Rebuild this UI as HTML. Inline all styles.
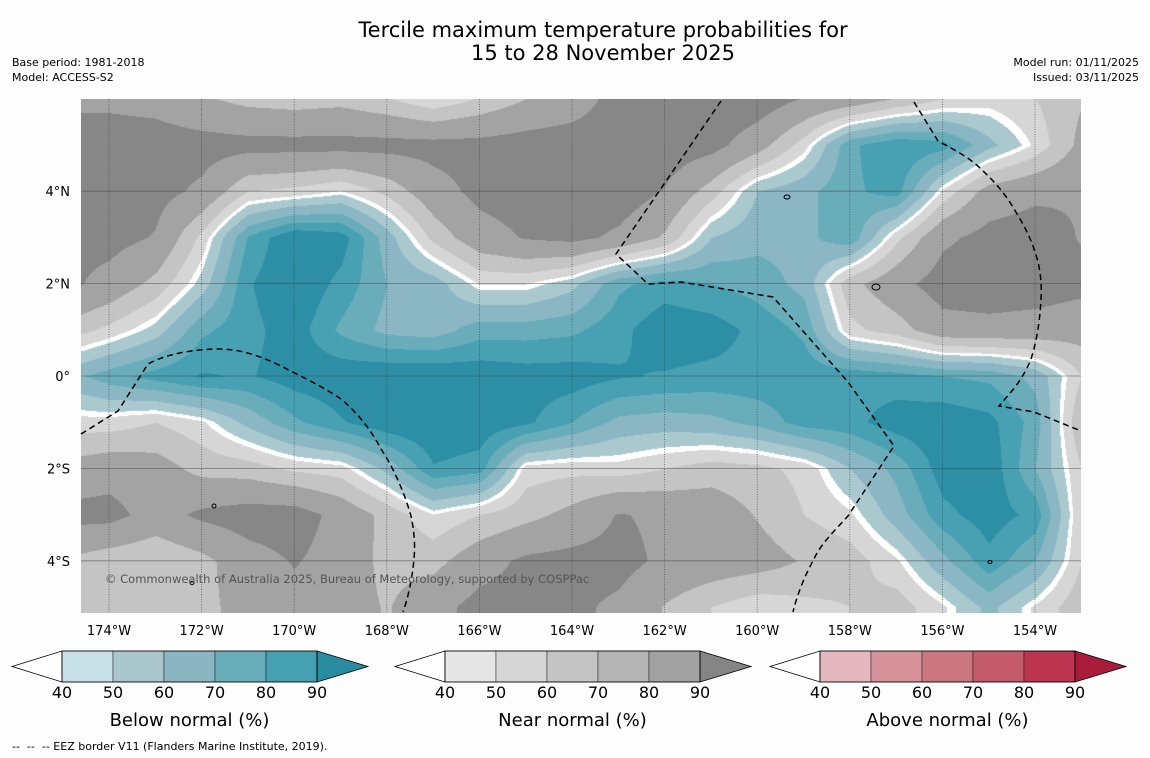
<!DOCTYPE html>
<html>
<head>
<meta charset="utf-8">
<style>
html,body{margin:0;padding:0;background:#fdfdfd;}
body{width:1150px;height:758px;position:relative;overflow:hidden;font-family:"DejaVu Sans","Liberation Sans",sans-serif;color:#000;}
.t{position:absolute;white-space:nowrap;}
#map{position:absolute;left:81px;top:99px;}
#ov{position:absolute;left:0;top:0;}
</style>
</head>
<body>
<div class="t" style="left:0;width:1206px;text-align:center;top:19px;font-size:21px;line-height:23px;">Tercile maximum temperature probabilities for<br>15 to 28 November 2025</div>
<div class="t" style="left:12px;top:55px;font-size:11px;line-height:15px;">Base period: 1981-2018<br>Model: ACCESS-S2</div>
<div class="t" style="right:11px;top:55px;font-size:11px;line-height:15px;text-align:right;">Model run: 01/11/2025<br>Issued: 03/11/2025</div>
<canvas id="map" width="1000" height="514"></canvas>
<svg id="ov" width="1150" height="758"></svg>
<div class="t" style="left:105px;top:572px;font-size:11.5px;color:#555;">© Commonwealth of Australia 2025, Bureau of Meteorology, supported by COSPPac</div>
<div class="t" style="left:12px;top:740px;font-size:11px;">--&nbsp; --&nbsp; -- EEZ border V11 (Flanders Marine Institute, 2019).</div>
<script>
const lons=[-175,-174,-173,-172,-171,-170,-169,-168,-167,-166,-165,-164,-163,-162,-161,-160,-159,-158,-157,-156,-155,-154,-153];
const lats=[6,5,4,3,2,1,0,-1,-2,-3,-4,-5,-6];
// signed tercile probability: + below normal, - near normal
const probGrid=[
[-78,-78,-76,-68,-62,-60,-62,-56,-47,-56,-66,-72,-88,-92,-92,-90,-80,-75,-65,-55,-50,-55,-65],
[-88,-88,-88,-87,-86,-86,-86,-86,-86,-86,-88,-90,-90,-90,-86,-72,-50,72,82,78,58,-48,-70],
[-88,-88,-86,-78,-55,-52,-46,-58,-75,-85,-88,-90,-90,-80,-60,55,62,72,78,-48,-72,-78,-80],
[-85,-86,-80,-52,75,92,88,60,-58,-75,-82,-85,-78,-64,55,62,62,72,-52,-78,-86,-88,-80],
[-85,-76,-62,50,82,92,80,65,60,-47,-47,52,72,78,74,70,62,-62,-76,-88,-90,-88,-85],
[-62,-52,50,72,80,88,72,62,60,70,70,72,80,90,88,80,72,-52,-60,-75,-76,-75,-72],
[60,70,78,84,82,88,90,92,92,90,88,88,84,82,80,80,80,80,78,74,72,62,-55],
[-50,-50,-55,-48,58,72,82,90,92,90,85,74,62,60,62,68,78,80,88,90,86,70,-65],
[-70,-75,-72,-62,-60,-53,-50,58,82,78,-50,-52,-50,-55,-60,-58,-52,55,68,88,90,65,-55],
[-86,-86,-75,-84,-88,-88,-76,-62,-47,-55,-62,-70,-82,-78,-75,-65,-55,-48,60,80,88,80,-55],
[-65,-58,-55,-62,-75,-82,-75,-62,-62,-75,-84,-86,-86,-78,-75,-72,-65,-60,-48,62,80,65,-55],
[-55,-55,-55,-62,-72,-76,-72,-65,-76,-86,-86,-84,-78,-65,-55,-48,-52,-55,-60,-48,58,-48,-62],
[-55,-55,-55,-62,-72,-76,-72,-65,-76,-86,-86,-84,-78,-65,-55,-48,-52,-55,-60,-48,58,-48,-62]
];
const lonTicks=[-174,-172,-170,-168,-166,-164,-162,-160,-158,-156,-154];
const latTicks=[4,2,0,-2,-4];
const X0=109,PXD=46.3,Y0=376,PYD=46.2;
function xOf(lon){return X0+(lon+174)*PXD;}
function yOf(lat){return Y0-lat*PYD;}
function hex(h){return [parseInt(h.substr(1,2),16),parseInt(h.substr(3,2),16),parseInt(h.substr(5,2),16)];}
const teal=[[55,hex('#a9c9cf')],[65,hex('#8bb7c4')],[74,hex('#69adbb')],[83,hex('#47a1b2')],[999,hex('#2c8fa5')]];
const gray=[[55,hex('#d6d6d6')],[66,hex('#c4c4c4')],[81,hex('#a3a3a3')],[999,hex('#878787')]];
const F=probGrid.map(r=>r.map(v=>Math.sign(v)*(Math.abs(v)-45)));
function colorFor(f){
  if(Math.abs(f)<1.6)return [255,255,255];
  const p=Math.abs(f)+45;const tab=f>0?teal:gray;
  for(const [t,c] of tab){if(p<t)return c;}
  return tab[tab.length-1][1];
}
(function(){
  const cv=document.getElementById('map');const ctx=cv.getContext('2d');
  const img=ctx.createImageData(1000,514);const d=img.data;
  const nI=lons.length,nJ=lats.length;
  for(let py=0;py<514;py++){
    const lat=(Y0-(py+99))/PYD;
    let j=(lats[0]-lat);let j0=Math.min(nJ-2,Math.max(0,Math.floor(j)));let fy=j-j0;
    for(let px=0;px<1000;px++){
      const lon=-174+((px+81)-X0)/PXD;
      let i=lon-lons[0];let i0=Math.min(nI-2,Math.max(0,Math.floor(i)));let fx=i-i0;
      const v=F[j0][i0]*(1-fx)*(1-fy)+F[j0][i0+1]*fx*(1-fy)+F[j0+1][i0]*(1-fx)*fy+F[j0+1][i0+1]*fx*fy;
      const c=colorFor(v);const k=(py*1000+px)*4;
      d[k]=c[0];d[k+1]=c[1];d[k+2]=c[2];d[k+3]=255;
    }
  }
  ctx.putImageData(img,0,0);
})();
const NS='http://www.w3.org/2000/svg';
const ov=document.getElementById('ov');
const FF='DejaVu Sans, Liberation Sans, sans-serif';
function mk(tag,attrs,parent){const e=document.createElementNS(NS,tag);for(const k in attrs)e.setAttribute(k,attrs[k]);(parent||ov).appendChild(e);return e;}
const gGrid=mk('g',{});


lonTicks.forEach(lon=>{
  const x=xOf(lon);
  const l=mk('line',{x1:x,x2:x,y1:99,y2:613,stroke:'#333','stroke-width':0.8,'stroke-dasharray':'1,1.5','stroke-opacity':0.7},gGrid);
  
  
  const t=mk('text',{x:x,y:635,'text-anchor':'middle','font-size':13,'font-family':FF});
  t.textContent=Math.abs(lon)+'°W';
  
  
});
latTicks.forEach(lat=>{
  const y=yOf(lat);
  const l=mk('line',{x1:81,x2:1081,y1:y,y2:y,stroke:'#444','stroke-width':0.8,'stroke-opacity':0.6},gGrid);
  
  
  const t=mk('text',{x:70,y:y+5,'text-anchor':'end','font-size':13,'font-family':FF});
  t.textContent=lat===0?'0°':Math.abs(lat)+'°'+(lat>0?'N':'S');
  
  
});
const eez=[
 'M81,434 L118,411 L148,364 C170,352 200,349 221,349 C245,350 262,357 281,366 C300,376 322,386 341,399 C360,415 372,432 381,449 C395,470 405,495 411,516 C415,535 415,548 414,559 C412,580 408,598 403,612',
 'M721,101 L616,254 L648,284 L681,282 L773,297 L848,382 L894,446 L848,516 C835,530 820,545 814,559 C805,575 797,595 793,612',
 'M914,102 L938,141 C955,150 970,158 981,169 C995,182 1006,195 1014,209 C1024,225 1030,237 1034,249 C1040,265 1042,282 1041,299 C1040,320 1037,340 1031,359 C1026,372 1018,384 1011,392 L999,406 L1034,412 L1081,431'
];
eez.forEach(p=>{
  const e=mk('path',{d:p,fill:'none',stroke:'#000','stroke-width':1.5,'stroke-dasharray':'6,4'});
  
  
});
[[787,197,3,2],[876,287,4,3],[214,506,2,2],[990,562,2,1.5],[192,583,2,1.5]].forEach(a=>{
  const e=mk('ellipse',{cx:a[0],cy:a[1],rx:a[2],ry:a[3],fill:'none',stroke:'#000','stroke-width':1});
  
  
});
const barNames=['Below normal (%)','Near normal (%)','Above normal (%)'];
const barStarts=[12,395,770];
const barColors=[
 ['#c8e1e8','#a8c6cb','#8ab5c1','#68aebb','#45a0b1','#2a8ca0'],
 ['#e6e6e6','#d6d6d6','#c4c4c4','#b4b4b4','#a2a2a2','#858585'],
 ['#e3b9bf','#d7939c','#cb7781','#c35b6b','#bb3450','#a91d3a']];
const barTicks=[40,50,60,70,80,90];
barStarts.forEach((x0,b)=>{
  const g=mk('g',{});
  
  
  const yt=651,yb=682,ym=666.5,tw=50,bw=51;
  mk('polygon',{points:`${x0},${ym} ${x0+tw},${yt} ${x0+tw},${yb}`,fill:'#fff',stroke:'#000','stroke-width':0.8},g);
  for(let k=0;k<5;k++){
    const r=mk('rect',{x:x0+tw+k*bw,y:yt,width:bw,height:yb-yt,fill:barColors[b][k],stroke:'#000','stroke-width':0.4},g);
    
    
  }
  const xe=x0+tw+5*bw;
  mk('polygon',{points:`${xe},${yt} ${xe+tw+1},${ym} ${xe},${yb}`,fill:barColors[b][5],stroke:'#000','stroke-width':0.8},g);
  mk('rect',{x:x0+tw,y:yt,width:5*bw,height:yb-yt,fill:'none',stroke:'#000','stroke-width':0.8},g);
  barTicks.forEach((v,k)=>{
    const t=mk('text',{x:x0+tw+k*bw,y:698,'text-anchor':'middle','font-size':16,'font-family':FF},g);
    t.textContent=v;
    
    
  });
  const tt=mk('text',{x:x0+tw+2.5*bw,y:726,'text-anchor':'middle','font-size':18,'font-family':FF},g);
  tt.textContent=barNames[b];
  
  
});
</script>
</body>
</html>
